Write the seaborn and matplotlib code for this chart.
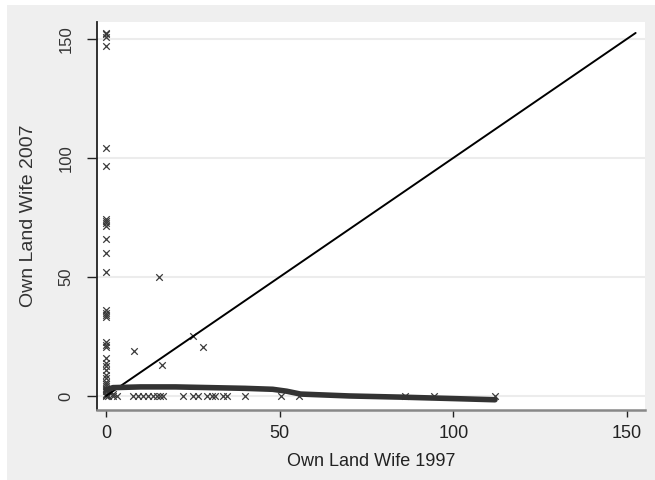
import numpy as np
import pandas as pd
import matplotlib
matplotlib.use("Agg")
import matplotlib.pyplot as plt
from matplotlib.patches import Rectangle
import seaborn as sns

# ---- data ----
# points with wife 1997 land = 0
x0_vals = [0]*34
y0_vals = [152.5, 152, 151, 147, 104, 96.5, 74.5, 73.5, 72.5, 71.5, 66, 60, 52,
           36, 35, 34, 33, 22.5, 21.5, 20.5, 16, 14, 12.5, 11, 9, 7.5, 6, 5, 4,
           3, 2, 1, 0.5, 0]
# points off both axes
xmid_vals = [15.3, 8, 16, 25, 28, 1, 2]
ymid_vals = [50, 19, 13, 25, 20.5, 2, 1]
# points with wife 2007 land = 0
xz_vals = [0.6, 2, 3.2, 7.8, 9.2, 10.7, 12, 13.5, 14.6, 15.5, 16.4, 22.2, 25,
           26.5, 29, 30.5, 31.4, 33.7, 34.8, 40, 50.5, 55.5, 86, 94.5, 112]
yz_vals = [0]*len(xz_vals)

# lowess smoother
lowess_x = [0, 2, 10, 20, 30, 40, 48, 52, 56, 70, 85, 100, 112]
lowess_y = [2.5, 3.5, 3.8, 3.8, 3.5, 3.2, 2.8, 2.0, 0.8, 0.0, -0.5, -1.1, -1.6]

# 45-degree reference line
diag_x = [0, 152.5]
diag_y = [0, 152.5]

x_ticks = [0, 50, 100, 150]
y_ticks = [0, 50, 100, 150]
x_label = "Own Land Wife 1997"
y_label = "Own Land Wife 2007"

pts = pd.DataFrame({
    "x": x0_vals + xmid_vals + xz_vals,
    "y": y0_vals + ymid_vals + yz_vals,
})
low = pd.DataFrame({"x": lowess_x, "y": lowess_y})
diag = pd.DataFrame({"x": diag_x, "y": diag_y})

sns.set_theme(style="white")
plt.rcParams["font.family"] = ["Liberation Sans", "DejaVu Sans"]

fig = plt.figure(figsize=(6.55, 4.8), dpi=100, facecolor="white")
fig.patches.append(Rectangle((7/655, 0), 1 - 7/655, 1 - 5/480,
                             transform=fig.transFigure, facecolor="#efefef",
                             edgecolor="none", zorder=-10))
ax = fig.add_axes([97/655, 1 - 410/480, 548/655, 388/480])
ax.set_facecolor("white")

for yt in y_ticks:
    ax.axhline(yt, color="#ececec", lw=1.5, zorder=0)

sns.scatterplot(data=pts, x="x", y="y", marker="x", s=22, color="#3a3a3a",
                linewidth=0.9, ax=ax, zorder=3)
sns.lineplot(data=diag, x="x", y="y", color="black", lw=1.4, ax=ax,
             zorder=4, estimator=None, sort=False)
sns.lineplot(data=low, x="x", y="y", color="#333333", lw=4, ax=ax,
             zorder=5, estimator=None, sort=False)

ax.set_xlim(-2.6, 155.2)
ax.set_ylim(-5.9, 157.1)
ax.set_xticks(x_ticks)
ax.set_yticks(y_ticks)
ax.set_xticklabels([str(t) for t in x_ticks], fontsize=13, color="#222222")
ax.set_yticklabels([str(t) for t in y_ticks], fontsize=12, color="#333333",
                   rotation=90, va="center")

ax.tick_params(axis="x", direction="out", length=5, width=1, color="#222222",
               pad=6, bottom=True)
ax.tick_params(axis="y", direction="out", length=7, width=1, color="#222222",
               pad=10, left=True)

for s in ["top", "right"]:
    ax.spines[s].set_visible(False)
ax.spines["left"].set_color("#222222")
ax.spines["left"].set_linewidth(1.3)
ax.spines["bottom"].set_color("#888888")
ax.spines["bottom"].set_linewidth(1.8)

ax.set_xlabel(x_label, fontsize=13, color="#222222", labelpad=8)
ax.set_ylabel(y_label, fontsize=14, color="#333333")
ax.yaxis.set_label_coords(-0.109, 0.5)

fig.savefig("out.png", dpi=100, facecolor=fig.get_facecolor())
